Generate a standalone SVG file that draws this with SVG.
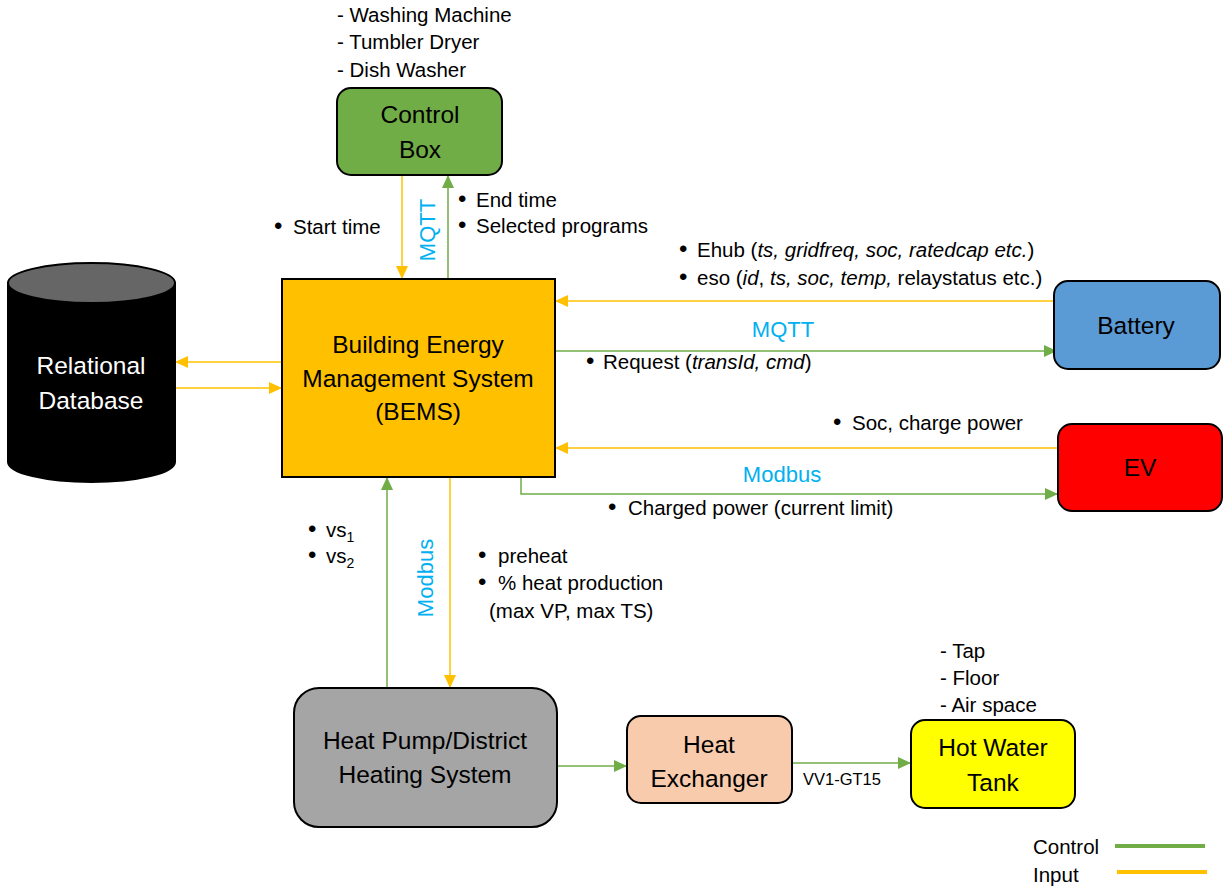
<svg xmlns="http://www.w3.org/2000/svg" width="1223" height="888" viewBox="0 0 1223 888">
  <style>
    text { font-family: "Liberation Sans", Arial, sans-serif; fill: #000; }
    .node { font-size: 24.5px; text-anchor: middle; }
    .lbl { font-size: 20.5px; }
    .b { font-size: 24px; }
    .proto { font-size: 22px; fill: #00B0F0; text-anchor: middle; }
    .ctl { stroke: #70AD47; stroke-width: 1.5; fill: none; }
    .inp { stroke: #FFC000; stroke-width: 1.5; fill: none; }
    .box { stroke: #000; stroke-width: 2; }
    .it { font-style: italic; }
  </style>
  <defs>
    <marker id="arrG" markerUnits="userSpaceOnUse" markerWidth="14" markerHeight="14" viewBox="0 0 14 14" refX="12" refY="7" orient="auto">
      <path d="M0,1 L13,7 L0,13 z" fill="#70AD47"/>
    </marker>
    <marker id="arrO" markerUnits="userSpaceOnUse" markerWidth="14" markerHeight="14" viewBox="0 0 14 14" refX="12" refY="7" orient="auto">
      <path d="M0,1 L13,7 L0,13 z" fill="#FFC000"/>
    </marker>
  </defs>

  <rect width="1223" height="888" fill="#fff"/>

  <!-- connectors -->
  <g id="connectors">
    <line class="inp" x1="402" y1="175" x2="402" y2="278" marker-end="url(#arrO)"/>
    <line class="ctl" x1="448" y1="279" x2="448" y2="176" marker-end="url(#arrG)"/>
    <line class="inp" x1="282" y1="362" x2="176" y2="362" marker-end="url(#arrO)"/>
    <line class="inp" x1="175" y1="388" x2="281" y2="388" marker-end="url(#arrO)"/>
    <line class="inp" x1="1054" y1="301" x2="556" y2="301" marker-end="url(#arrO)"/>
    <line class="ctl" x1="556" y1="351" x2="1056" y2="351" marker-end="url(#arrG)"/>
    <line class="inp" x1="1058" y1="448" x2="556" y2="448" marker-end="url(#arrO)"/>
    <polyline class="ctl" points="521,477 521,494 1057,494" marker-end="url(#arrG)"/>
    <line class="ctl" x1="387" y1="688" x2="387" y2="478" marker-end="url(#arrG)"/>
    <line class="inp" x1="450" y1="477" x2="450" y2="687" marker-end="url(#arrO)"/>
    <line class="ctl" x1="557" y1="766" x2="626" y2="766" marker-end="url(#arrG)"/>
    <line class="ctl" x1="792" y1="763" x2="910" y2="763" marker-end="url(#arrG)"/>

    <!-- protocol labels -->
    <text class="proto" transform="translate(435,230) rotate(-90)">MQTT</text>
    <text class="proto" x="783" y="337">MQTT</text>
    <text class="proto" x="782" y="482">Modbus</text>
    <text class="proto" transform="translate(433,578) rotate(-90)">Modbus</text>

    <!-- data labels -->
    <text class="lbl" y="234"><tspan class="b" x="274">•</tspan><tspan x="293">Start time</tspan></text>
    <text class="lbl" y="207"><tspan class="b" x="458">•</tspan><tspan x="476">End time</tspan></text>
    <text class="lbl" y="233"><tspan class="b" x="458">•</tspan><tspan x="476">Selected programs</tspan></text>
    <text class="lbl" y="257"><tspan class="b" x="679">•</tspan><tspan x="697">Ehub (<tspan class="it">ts, gridfreq, soc, ratedcap etc.</tspan>)</tspan></text>
    <text class="lbl" y="285"><tspan class="b" x="679">•</tspan><tspan x="697">eso (<tspan class="it">id</tspan>, <tspan class="it">ts, soc, temp,</tspan> relaystatus etc.)</tspan></text>
    <text class="lbl" y="369"><tspan class="b" x="586">•</tspan><tspan x="603">Request (<tspan class="it">transId, cmd</tspan>)</tspan></text>
    <text class="lbl" y="430"><tspan class="b" x="833">•</tspan><tspan x="852">Soc, charge power</tspan></text>
    <text class="lbl" y="515"><tspan class="b" x="608">•</tspan><tspan x="628">Charged power (current limit)</tspan></text>
    <text class="lbl" y="537"><tspan class="b" x="308">•</tspan><tspan x="326">vs</tspan><tspan font-size="14" dy="5">1</tspan></text>
    <text class="lbl" y="563"><tspan class="b" x="308">•</tspan><tspan x="326">vs</tspan><tspan font-size="14" dy="5">2</tspan></text>
    <text class="lbl" y="563"><tspan class="b" x="478">•</tspan><tspan x="498">preheat</tspan></text>
    <text class="lbl" y="590"><tspan class="b" x="478">•</tspan><tspan x="498">% heat production</tspan></text>
    <text class="lbl" x="489" y="618">(max VP, max TS)</text>
    <text x="803" y="785" font-size="16.5">VV1-GT15</text>
  </g>

  <!-- Control Box -->
  <g id="control-box">
    <text class="lbl" x="337" y="22">- Washing Machine</text>
    <text class="lbl" x="337" y="49">- Tumbler Dryer</text>
    <text class="lbl" x="337" y="77">- Dish Washer</text>
    <rect class="box" x="337" y="88" width="165" height="87" rx="14" fill="#70AD47"/>
    <text class="node" x="420" y="123">Control</text>
    <text class="node" x="420" y="158">Box</text>
  </g>

  <!-- BEMS -->
  <g id="bems">
    <rect class="box" x="282" y="279" width="273" height="198" fill="#FFC000"/>
    <text class="node" x="418" y="353">Building Energy</text>
    <text class="node" x="418" y="387">Management System</text>
    <text class="node" x="418" y="420">(BEMS)</text>
  </g>

  <!-- Relational Database -->
  <g id="database">
    <path d="M8,283 L8,462 A83.5,20 0 0 0 175,462 L175,283 Z" fill="#000" stroke="#000" stroke-width="2"/>
    <ellipse cx="91.5" cy="283" rx="83.5" ry="20" fill="#666" stroke="#000" stroke-width="2"/>
    <text class="node" x="91" y="374" style="fill:#fff">Relational</text>
    <text class="node" x="91" y="409" style="fill:#fff">Database</text>
  </g>

  <!-- Battery -->
  <g id="battery">
    <rect class="box" x="1054" y="281" width="166" height="88" rx="14" fill="#5B9BD5"/>
    <text class="node" x="1136" y="334">Battery</text>
  </g>

  <!-- EV -->
  <g id="ev">
    <rect class="box" x="1058" y="424" width="164" height="87" rx="14" fill="#FF0000"/>
    <text class="node" x="1140" y="476">EV</text>
  </g>

  <!-- Heat Pump / District Heating -->
  <g id="heat-pump">
    <rect class="box" x="294" y="688" width="263" height="139" rx="25" fill="#A5A5A5"/>
    <text class="node" x="425" y="749">Heat Pump/District</text>
    <text class="node" x="425" y="783">Heating System</text>
  </g>

  <!-- Heat Exchanger -->
  <g id="heat-exchanger">
    <rect class="box" x="627" y="716" width="165" height="87" rx="14" fill="#F8CBAD"/>
    <text class="node" x="709" y="753">Heat</text>
    <text class="node" x="709" y="787">Exchanger</text>
  </g>

  <!-- Hot Water Tank -->
  <g id="hot-water-tank">
    <text class="lbl" x="940" y="658">- Tap</text>
    <text class="lbl" x="940" y="685">- Floor</text>
    <text class="lbl" x="940" y="712">- Air space</text>
    <rect class="box" x="911" y="720" width="164" height="88" rx="14" fill="#FFFF00"/>
    <text class="node" x="993" y="756">Hot Water</text>
    <text class="node" x="993" y="791">Tank</text>
  </g>

  <!-- legend -->
  <g id="legend">
    <text class="lbl" x="1033" y="854">Control</text>
    <line x1="1115" y1="846" x2="1205" y2="846" stroke="#70AD47" stroke-width="4"/>
    <text class="lbl" x="1033" y="882">Input</text>
    <line x1="1117" y1="872" x2="1207" y2="872" stroke="#FFC000" stroke-width="4"/>
  </g>
</svg>
